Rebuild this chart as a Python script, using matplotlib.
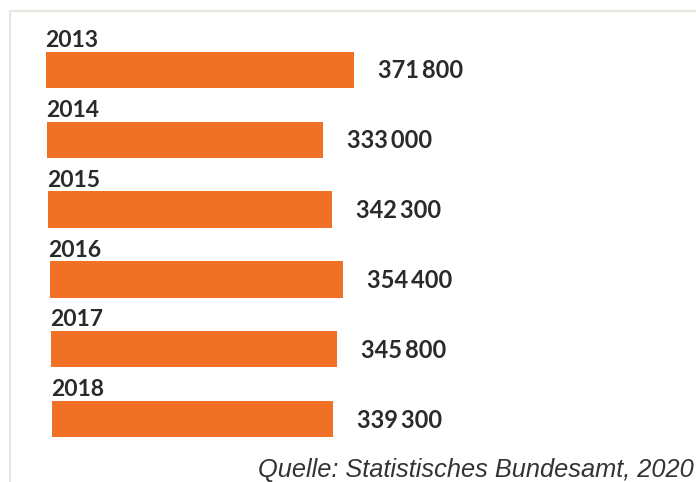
import matplotlib
matplotlib.use("Agg")
import matplotlib.pyplot as plt
from matplotlib.transforms import offset_copy

years = ["2013", "2014", "2015", "2016", "2017", "2018"]
values = [371800, 333000, 342300, 354400, 345800, 339300]
source = "Quelle: Statistisches Bundesamt, 2020"

W, H = 696, 482
fig = plt.figure(figsize=(W / 100, H / 100), dpi=100)
fig.patch.set_facecolor("white")

# frame lines (light border top and left)
fig.add_artist(plt.Line2D([10 / W, 1], [1 - 11 / H, 1 - 11 / H], color="#e6e6dc", lw=1.5))
fig.add_artist(plt.Line2D([10 / W, 10 / W], [0, 1 - 11 / H], color="#e6e6dc", lw=1.5))

x0 = 46
ax = fig.add_axes([x0 / W, 0, 1 - x0 / W, 1])
ax.set_facecolor("none")
px_per_unit = 308 / 371800
ax.set_xlim(0, (W - x0) / px_per_unit)
ax.set_ylim((H - 70) / 69.8, -70 / 69.8)
ax.axis("off")

fam = ["Lato", "DejaVu Sans"]
skew = 1.2  # slight drift of each row to the right (as in the scanned original)
for i, (yr, v) in enumerate(zip(years, values)):
    row_tr = offset_copy(ax.transData, fig=fig, x=skew * i, y=0, units="dots")
    ax.barh([i], [v], height=0.52, color="#F07026", edgecolor="none", transform=row_tr)
    yr_tr = offset_copy(ax.transData, fig=fig, x=skew * i - 1, y=0, units="dots")
    ax.text(0, i - 0.42, yr, transform=yr_tr, ha="left", va="center",
            fontsize=16.5, fontweight="bold", color="#2a2a2a", family=fam)
    val_tr = offset_copy(ax.transData, fig=fig, x=24 + skew * i, y=-1, units="dots")
    lab = f"{v:,}".replace(",", "\u2009")
    ax.text(v, i, lab, transform=val_tr, ha="left", va="center",
            fontsize=17, fontweight="bold", color="#2a2a2a", family=fam)

fig.text(694 / W, 1 - 477 / H, source, ha="right", va="baseline",
         fontsize=18.3, style="italic", color="#333333", family="Liberation Sans")

fig.savefig("out.png", dpi=100, facecolor="white")
